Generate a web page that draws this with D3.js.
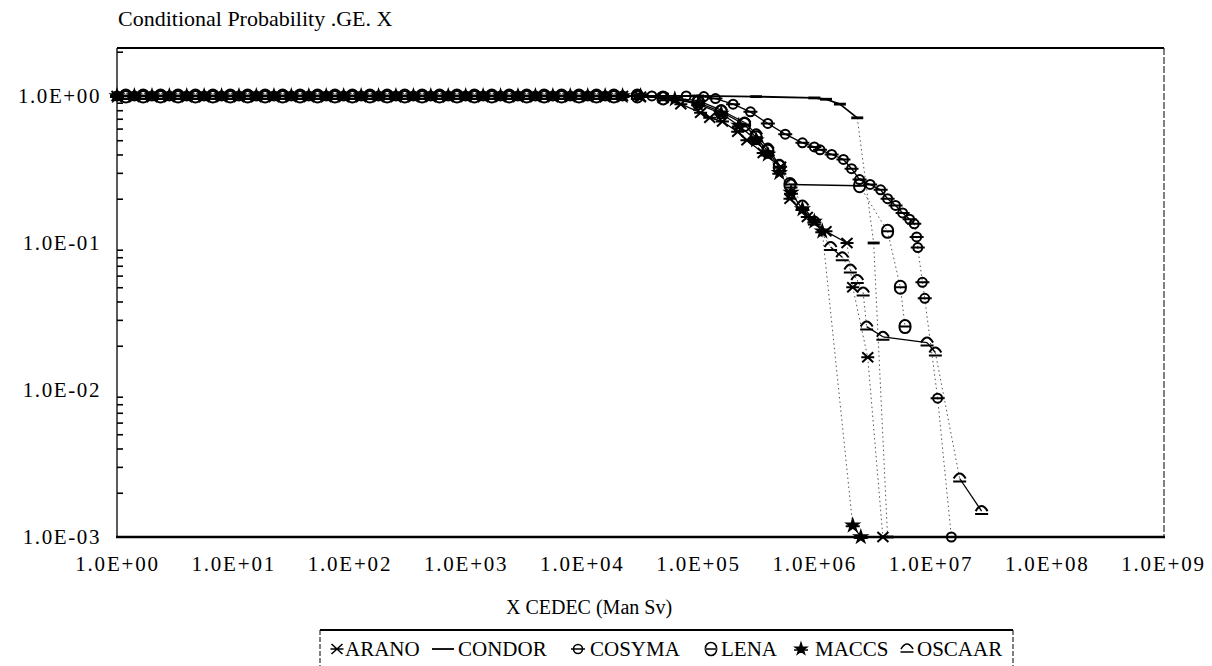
<!DOCTYPE html>
<html><head><meta charset="utf-8">
<script src="https://cdn.jsdelivr.net/npm/d3@7"></script>
<style>body{margin:0;background:#fff}svg{display:block}text{font-family:"Liberation Serif","Times New Roman",serif;fill:#000}</style>
</head><body>
<svg id="c" width="1212" height="666"></svg>
<script>
// ---- data ----
const xTickValues = [1, 1e1, 1e2, 1e3, 1e4, 1e5, 1e6, 1e7, 1e8, 1e9];
const xTickLabels = ["1.0E+00","1.0E+01","1.0E+02","1.0E+03","1.0E+04","1.0E+05","1.0E+06","1.0E+07","1.0E+08","1.0E+09"];
const yTickValues = [1, 0.1, 0.01, 0.001];
const yTickLabels = ["1.0E+00","1.0E-01","1.0E-02","1.0E-03"];
const seriesNames = ["ARANO","CONDOR","COSYMA","LENA","MACCS","OSCAAR"];

const plateauXa = [1, 1.41, 2.0, 2.82, 3.98, 5.62, 7.94, 11.2, 15.8, 22.4, 31.6, 44.7, 63.1, 89.1, 126, 178, 251, 355, 501, 708, 1000, 1413, 1995, 2818, 3981, 5623, 7943, 11220, 15850, 22390];
const plateauYa = [1,1,1,1,1,1,1,1,1,1,1,1,1,1,1,1,1,1,1,1,1,1,1,1,1,1,1,1,1,1];
const plateauXb = [1.19, 1.68, 2.37, 3.35, 4.73, 6.68, 9.44, 13.3, 18.8, 26.6, 37.6, 53.1, 75.0, 106, 150, 211, 299, 422, 596, 841, 1189, 1679, 2371, 3350, 4732, 6683, 9441, 13340, 18840];
const plateauYb = [1,1,1,1,1,1,1,1,1,1,1,1,1,1,1,1,1,1,1,1,1,1,1,1,1,1,1,1,1];

const aranoX = [3.2e4, 5.0e4, 7.1e4, 1.05e5, 1.26e5, 1.62e5, 2.19e5, 2.63e5, 3.63e5, 5.13e5, 6.17e5, 8.7e5, 1.26e6, 1.91e6, 2.14e6, 2.88e6, 3.89e6];
const aranoY = [0.99, 0.97, 0.88, 0.77, 0.71, 0.67, 0.57, 0.50, 0.41, 0.33, 0.20, 0.15, 0.12, 0.10, 0.05, 0.0167, 0.001];

const condorX = [3.0e4, 1.0e5, 3.16e5, 1.0e6, 1.26e6, 1.66e6, 2.34e6, 3.24e6, 4.27e6];
const condorY = [1.0, 1.0, 0.99, 0.97, 0.95, 0.88, 0.71, 0.10, 0.001];

const cosymaX = [4.0e4, 7.9e4, 1.12e5, 1.41e5, 2.0e5, 2.82e5, 3.98e5, 5.62e5, 7.9e5, 1.0e6, 1.12e6, 1.41e6, 1.78e6, 2.09e6, 2.45e6, 3.02e6, 3.72e6, 4.27e6, 5.0e6, 5.75e6, 6.6e6, 7.24e6, 7.59e6, 7.76e6, 8.51e6, 8.91e6, 1.15e7, 1.51e7];
const cosymaY = [1.0, 1.0, 0.99, 0.96, 0.88, 0.78, 0.65, 0.55, 0.48, 0.45, 0.43, 0.40, 0.37, 0.32, 0.27, 0.25, 0.23, 0.20, 0.18, 0.16, 0.145, 0.135, 0.11, 0.093, 0.054, 0.042, 0.0088, 0.001];

const lenaX = [3.0e4, 5.0e4, 1.0e5, 1.58e5, 2.51e5, 3.16e5, 3.98e5, 5.0e5, 6.17e5, 2.45e6, 4.27e6, 5.5e6, 6.03e6];
const lenaY = [1.0, 0.97, 0.90, 0.78, 0.64, 0.52, 0.42, 0.33, 0.25, 0.245, 0.12, 0.05, 0.027];

const maccsX = [3.2e4, 6.3e4, 1.0e5, 1.58e5, 2.24e5, 3.16e5, 3.98e5, 5.0e5, 6.3e5, 7.9e5, 1.0e6, 1.17e6, 2.14e6, 2.51e6];
const maccsY = [1.0, 0.95, 0.88, 0.76, 0.63, 0.50, 0.40, 0.30, 0.22, 0.17, 0.14, 0.12, 0.0012, 0.001];

const oscaarX = [3.0e4, 5.0e4, 1.0e5, 1.58e5, 2.51e5, 3.16e5, 3.98e5, 5.0e5, 6.3e5, 7.9e5, 1.0e6, 1.38e6, 1.74e6, 2.04e6, 2.34e6, 2.63e6, 2.82e6, 3.89e6, 9.33e6, 1.1e7, 1.78e7, 2.75e7];
const oscaarY = [1.0, 0.98, 0.93, 0.80, 0.66, 0.55, 0.44, 0.34, 0.25, 0.18, 0.14, 0.094, 0.08, 0.066, 0.056, 0.046, 0.027, 0.023, 0.021, 0.018, 0.0025, 0.0015];

// ---- build series ----
function build(px, py, tx, ty) {
  return px.map((x, i) => ({x, y: py[i]})).concat(tx.map((x, i) => ({x, y: ty[i]})));
}
const series = [
  {name: seriesNames[0], key: "arano",  pts: build(plateauXa, plateauYa, aranoX, aranoY)},
  {name: seriesNames[1], key: "condor", pts: build(plateauXb, plateauYb, condorX, condorY)},
  {name: seriesNames[2], key: "cosyma", pts: build(plateauXa, plateauYa, cosymaX, cosymaY)},
  {name: seriesNames[3], key: "lena",   pts: build(plateauXb, plateauYb, lenaX, lenaY)},
  {name: seriesNames[4], key: "maccs",  pts: build(plateauXa, plateauYa, maccsX, maccsY)},
  {name: seriesNames[5], key: "oscaar", pts: build(plateauXb, plateauYb, oscaarX, oscaarY)}
];

// ---- layout ----
const L = 117, R = 1164, T = 48, B = 537;
const x = d3.scaleLog().domain([1, 1e9]).range([L, 1163]);
const y = d3.scaleLog().domain([1e-3, 2.12]).range([B, T]);
const svg = d3.select("#c");

// markers
const starPath = d3.symbol().type(d3.symbolStar).size(38)();
const markers = {
  arano:  {d: "M-5.5,-5L5.5,5M-5.5,5L5.5,-5M-6.5,0L6.5,0", fill: "none"},
  condor: {d: "M-6,0L6,0", fill: "none", w: 2.8},
  cosyma: {d: "M-4.5,0a4.5,4.5 0 1,0 9,0a4.5,4.5 0 1,0 -9,0M-7,0L7,0", fill: "none"},
  lena:   {d: "M-5.5,-1A5.5,5.5 0 0,1 5.5,-1M-5.5,1A5.5,5.5 0 0,0 5.5,1M-6.5,0L6.5,0", fill: "none"},
  maccs:  {d: starPath + "M-7,1L7,1", fill: "#000"},
  oscaar: {d: "M-6,0Q0,-10 6,0M-6.5,3L6.5,3", fill: "none"}
};

// title
svg.append("text").attr("x", 118).attr("y", 26).style("font-size", "22px")
  .text("Conditional Probability .GE. X");

// frame
svg.append("line").attr("x1", L).attr("x2", R).attr("y1", T).attr("y2", T)
  .attr("stroke", "#000").attr("stroke-width", 2);
svg.append("line").attr("x1", L).attr("x2", L).attr("y1", T).attr("y2", B)
  .attr("stroke", "#000").attr("stroke-width", 1.3);
svg.append("line").attr("x1", R).attr("x2", R).attr("y1", T).attr("y2", B)
  .attr("stroke", "#000").attr("stroke-width", 1).attr("stroke-dasharray", "7,2");

// y axis labels
const yAxis = svg.append("g").attr("transform", `translate(${L},0)`)
  .call(d3.axisLeft(y).tickValues(yTickValues).tickFormat((d, i) => yTickLabels[i]).tickSize(0).tickPadding(16));
yAxis.select(".domain").remove();
yAxis.selectAll("text").style("font-family", "Liberation Serif").style("font-size", "21px").style("letter-spacing", "1.6px");

// y minor ticks inside
const minor = y.ticks().filter(v => Math.abs(Math.log10(v) - Math.round(Math.log10(v))) > 1e-6);
const yMinor = svg.append("g").attr("transform", `translate(${L},0)`)
  .call(d3.axisRight(y).tickValues(minor).tickSize(6).tickFormat(""));
yMinor.select(".domain").remove();
yMinor.selectAll("line").attr("stroke", "#000").attr("stroke-width", 1.6);

// x axis
const xAxis = svg.append("g").attr("transform", `translate(0,${B})`)
  .call(d3.axisBottom(x).tickValues(xTickValues).tickFormat((d, i) => xTickLabels[i]).tickSize(0).tickPadding(19));
xAxis.select(".domain").remove();
xAxis.selectAll("text").style("font-family", "Liberation Serif").style("font-size", "21px").style("letter-spacing", "1.8px");
svg.append("line").attr("x1", L - 1).attr("x2", R + 1).attr("y1", B).attr("y2", B)
  .attr("stroke", "#000").attr("stroke-width", 2.6);

// x title
svg.append("text").attr("x", 589).attr("y", 614).attr("text-anchor", "middle").style("font-size", "20px")
  .text("X CEDEC (Man Sv)");

// lines (segment-wise: steep segments look dotted as in the scan)
const gl = svg.append("g");
series.forEach(s => {
  for (let i = 0; i < s.pts.length - 1; i++) {
    const a = s.pts[i], b = s.pts[i + 1];
    const x1 = x(a.x), y1 = y(a.y), x2 = x(b.x), y2 = y(b.y);
    const steep = Math.abs(y2 - y1) > 1.5 * Math.abs(x2 - x1);
    gl.append("line").attr("x1", x1).attr("y1", y1).attr("x2", x2).attr("y2", y2)
      .attr("stroke", steep ? "#555" : "#000")
      .attr("stroke-width", steep ? 1 : (s.key === "condor" ? 1.8 : 1.3))
      .attr("stroke-dasharray", steep ? "1.5,3" : null);
  }
});

// markers
const gm = svg.append("g");
series.forEach(s => {
  const m = markers[s.key];
  gm.selectAll(null).data(s.pts).enter().append("path")
    .attr("d", m.d)
    .attr("transform", d => `translate(${x(d.x)},${y(d.y)})`)
    .attr("fill", m.fill).attr("stroke", "#000").attr("stroke-width", m.w || 2);
});

// legend
const lg = svg.append("g");
lg.append("line").attr("x1", 320).attr("x2", 1013).attr("y1", 630).attr("y2", 630)
  .attr("stroke", "#000").attr("stroke-width", 2);
lg.append("line").attr("x1", 320).attr("x2", 320).attr("y1", 630).attr("y2", 666)
  .attr("stroke", "#000").attr("stroke-width", 1).attr("stroke-dasharray", "5,2");
lg.append("line").attr("x1", 1013).attr("x2", 1013).attr("y1", 630).attr("y2", 666)
  .attr("stroke", "#000").attr("stroke-width", 1).attr("stroke-dasharray", "5,2");
const legSym = [337, 443, 578, 711, 801, 907];
const legTxt = [345, 458, 590, 721, 815, 917];
series.forEach((s, i) => {
  const m = markers[s.key];
  lg.append("path").attr("d", s.key === "condor" ? "M-11,0L11,0" : m.d)
    .attr("transform", `translate(${legSym[i]},649)`)
    .attr("fill", m.fill).attr("stroke", "#000").attr("stroke-width", s.key === "condor" ? 1.8 : 1.6);
  lg.append("text").attr("x", legTxt[i]).attr("y", 656).style("font-size", "21px").text(s.name);
});
</script>
</body></html>
